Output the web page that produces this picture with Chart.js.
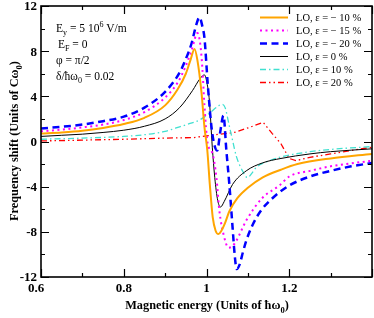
<!DOCTYPE html>
<html>
<head>
<meta charset="utf-8">
<script src="https://cdn.jsdelivr.net/npm/chart.js@4"></script>
<style>
  html, body { margin: 0; padding: 0; background: #fff; }
  #wrap { width: 374px; height: 318px; }
</style>
</head>
<body>
<div id="wrap"><canvas id="freqChart" width="374" height="318"></canvas></div>
<script>
// values (magnetic energy / frequency shift)
const xM10 = [0.6, 0.65, 0.7, 0.75, 0.8, 0.85, 0.9, 0.93, 0.95, 0.962, 0.971, 0.978, 0.988, 0.995, 1.002, 1.008, 1.015, 1.022, 1.029, 1.036, 1.045, 1.055, 1.075, 1.1, 1.135, 1.18, 1.22, 1.3, 1.4];
const yM10 = [0.7, 0.8, 0.95, 1.2, 1.55, 2.1, 3.2, 4.6, 6.0, 7.3, 8.2, 7.2, 4.3, 1.3, -0.8, -3.8, -6.7, -7.9, -8.2, -7.9, -7.2, -6.2, -5.0, -4.1, -3.2, -2.5, -2.0, -1.5, -1.1];

const xM15 = [0.6, 0.65, 0.7, 0.75, 0.8, 0.85, 0.9, 0.93, 0.95, 0.965, 0.978, 0.985, 0.99, 0.995, 1.003, 1.014, 1.024, 1.031, 1.043, 1.053, 1.062, 1.072, 1.096, 1.135, 1.176, 1.2, 1.25, 1.3, 1.4];
const yM15 = [0.9, 1.05, 1.25, 1.5, 1.9, 2.6, 3.9, 5.2, 6.7, 8.2, 9.6, 8.6, 6.5, 3.2, -0.2, -1.0, -3.2, -6.1, -8.5, -9.4, -9.3, -8.8, -7.0, -5.0, -3.9, -3.1, -2.6, -2.2, -1.7];

const xM20 = [0.6, 0.65, 0.7, 0.75, 0.8, 0.85, 0.9, 0.935, 0.95, 0.964, 0.975, 0.983, 0.99, 0.995, 1.003, 1.012, 1.019, 1.026, 1.033, 1.041, 1.048, 1.055, 1.063, 1.068, 1.073, 1.08, 1.088, 1.096, 1.11, 1.13, 1.16, 1.2, 1.25, 1.3, 1.35, 1.4];
const yM20 = [1.15, 1.3, 1.5, 1.8, 2.2, 3.0, 4.4, 6.1, 7.3, 8.7, 10.3, 11.0, 10.2, 9.2, 5.1, 1.3, -0.3, -0.8, 0.8, 2.3, -0.8, -3.7, -7.6, -10.0, -11.3, -10.9, -9.8, -8.8, -7.5, -6.2, -5.0, -3.9, -3.1, -2.6, -2.2, -1.9];

const xZero = [0.6, 0.65, 0.7, 0.75, 0.8, 0.85, 0.9, 0.935, 0.966, 0.985, 0.995, 1.001, 1.007, 1.014, 1.02, 1.027, 1.034, 1.043, 1.063, 1.096, 1.135, 1.18, 1.25, 1.3, 1.4];
const yZero = [0.45, 0.55, 0.65, 0.8, 1.0, 1.35, 2.0, 3.0, 4.5, 5.6, 5.9, 5.2, 3.6, -0.5, -3.2, -5.2, -5.8, -5.3, -3.8, -2.6, -1.9, -1.5, -1.1, -0.9, -0.65];

const xP10 = [0.6, 0.7, 0.8, 0.85, 0.9, 0.935, 0.96, 0.983, 1.007, 1.027, 1.038, 1.045, 1.055, 1.063, 1.072, 1.087, 1.099, 1.11, 1.12, 1.145, 1.176, 1.2, 1.25, 1.3, 1.4];
const yP10 = [0.2, 0.3, 0.45, 0.6, 0.9, 1.3, 1.6, 1.9, 2.5, 3.1, 3.3, 3.0, 1.4, 0.1, -1.3, -2.6, -3.2, -2.8, -2.3, -1.8, -1.4, -1.2, -0.9, -0.7, -0.45];

const xP20 = [0.6, 0.7, 0.8, 0.9, 0.97, 1.0, 1.067, 1.104, 1.137, 1.159, 1.18, 1.2, 1.216, 1.25, 1.3, 1.4];
const yP20 = [0.05, 0.12, 0.2, 0.3, 0.35, 0.5, 0.8, 1.25, 1.7, 0.7, -0.2, -1.5, -1.7, -1.4, -1.1, -0.5];

const seriesLabels = ['LO, \u03b5 = \u2212 10 %', 'LO, \u03b5 = \u2212 15 %', 'LO, \u03b5 = \u2212 20 %', 'LO, \u03b5 = 0 %', 'LO, \u03b5 = 10 %', 'LO, \u03b5 = 20 %'];
const xTickValues = [0.6, 0.8, 1.0, 1.2];
const xTickLabels = ['0.6', '0.8', '1', '1.2'];
const yTickValues = [12, 8, 4, 0, -4, -8, -12];
const yTickLabels = ['12', '8', '4', '0', '-4', '-8', '-12'];

const SERIF = '"Liberation Serif", "DejaVu Serif", serif';

function pts(xs, ys) {
  return xs.map((x, i) => ({ x: x, y: ys[i] }));
}

// draw text with sub/superscripts: parts = [[text, 0|1|2]] (0 normal, 1 sub, 2 sup)
function rich(ctx, x, y, parts, size, weight, measureOnly) {
  let cx = x;
  parts.forEach(p => {
    const small = p[1] !== 0;
    ctx.font = weight + ' ' + (small ? size * 0.7 : size) + 'px ' + SERIF;
    const dy = p[1] === 1 ? size * 0.3 : (p[1] === 2 ? -size * 0.42 : 0);
    if (!measureOnly) ctx.fillText(p[0], cx, y + dy);
    cx += ctx.measureText(p[0]).width;
  });
  return cx - x;
}

const datasets = [
  { data: pts(xM10, yM10), borderColor: '#ffa500', borderWidth: 2 },
  { data: pts(xM15, yM15), borderColor: '#ff00ff', borderWidth: 2, borderDash: [2, 3.5] },
  { data: pts(xM20, yM20), borderColor: '#0000ff', borderWidth: 2.5, borderDash: [7, 4.5] },
  { data: pts(xZero, yZero), borderColor: '#000000', borderWidth: 1 },
  { data: pts(xP10, yP10), borderColor: '#40e0d0', borderWidth: 1.3, borderDash: [6, 3, 1.5, 3] },
  { data: pts(xP20, yP20), borderColor: '#ff0000', borderWidth: 1.3, borderDash: [6, 3, 1.5, 3, 1.5, 3], tension: 0, cubicInterpolationMode: 'default' }
];
datasets.forEach((d, i) => {
  d.label = seriesLabels[i];
  d.fill = false;
  d.pointRadius = 0;
  if (!d.cubicInterpolationMode) d.cubicInterpolationMode = 'monotone';
});

// frame, inward ticks, tick labels, titles, notes and legend
const decor = {
  id: 'decor',
  afterDatasetsDraw(chart) {
    const ctx = chart.ctx;
    const a = chart.chartArea;
    const xs = chart.scales.x, ys = chart.scales.y;
    ctx.save();
    ctx.strokeStyle = '#000';
    ctx.lineWidth = 1.2;
    ctx.setLineDash([]);
    ctx.beginPath();
    for (let i = 0; i <= 8; i++) {
      const v = 0.6 + i * 0.1;
      const px = Math.round(xs.getPixelForValue(v)) + 0.5;
      const len = i % 2 === 0 ? 8 : 4;
      ctx.moveTo(px, a.bottom); ctx.lineTo(px, a.bottom - len);
      ctx.moveTo(px, a.top); ctx.lineTo(px, a.top + len);
    }
    for (let v = -12; v <= 12; v += 2) {
      const py = Math.round(ys.getPixelForValue(v)) + 0.5;
      const len = v % 4 === 0 ? 8 : 4;
      ctx.moveTo(a.left, py); ctx.lineTo(a.left + len, py);
      ctx.moveTo(a.right, py); ctx.lineTo(a.right - len, py);
    }
    ctx.stroke();
    ctx.lineWidth = 1.6;
    ctx.strokeRect(a.left, a.top, a.right - a.left, a.bottom - a.top);

    ctx.fillStyle = '#000';
    ctx.font = 'bold 13px ' + SERIF;
    ctx.textAlign = 'right';
    ctx.textBaseline = 'middle';
    yTickValues.forEach((v, i) => {
      ctx.fillText(yTickLabels[i], a.left - 4, ys.getPixelForValue(v) + 1);
    });
    ctx.textAlign = 'center';
    ctx.textBaseline = 'alphabetic';
    xTickValues.forEach((v, i) => {
      const shift = i === 0 ? -5 : 0;
      ctx.fillText(xTickLabels[i], xs.getPixelForValue(v) + shift, a.bottom + 15);
    });

    ctx.textAlign = 'left';
    // x title
    const xt = [['Magnetic energy (Units of \u0127\u03c9', 0], ['0', 1], [')', 0]];
    const xw = rich(ctx, 0, 0, xt, 12.3, 'bold', true);
    rich(ctx, 207 - xw / 2, 309, xt, 12.3, 'bold');

    // y title
    const yt = [['Frequency shift (Units of C\u03c9', 0], ['0', 1], [')', 0]];
    const yw = rich(ctx, 0, 0, yt, 12.3, 'bold', true);
    ctx.save();
    ctx.translate(18, 141);
    ctx.rotate(-Math.PI / 2);
    rich(ctx, -yw / 2, 0, yt, 12.3, 'bold');
    ctx.restore();

    // parameter notes
    rich(ctx, 56, 32, [['E', 0], ['y', 1], [' = 5 10', 0], ['6', 2], [' V/m', 0]], 11.5, 'normal');
    rich(ctx, 58, 48, [['E', 0], ['F', 1], [' = 0', 0]], 11.5, 'normal');
    rich(ctx, 56, 64, [['\u03c6 = \u03c0/2', 0]], 11.5, 'normal');
    rich(ctx, 56, 80, [['\u03b4/\u0127\u03c9', 0], ['0', 1], [' = 0.02', 0]], 11.5, 'normal');

    // legend
    chart.data.datasets.forEach((d, i) => {
      const cy = 17 + i * 13;
      ctx.strokeStyle = d.borderColor;
      ctx.lineWidth = d.borderWidth;
      ctx.setLineDash(d.borderDash || []);
      ctx.beginPath();
      ctx.moveTo(260, cy + 0.5);
      ctx.lineTo(288, cy + 0.5);
      ctx.stroke();
      ctx.setLineDash([]);
      ctx.font = '10.5px ' + SERIF;
      ctx.fillText(d.label, 296, cy + 4);
    });
    ctx.restore();
  }
};

const ctx = document.getElementById('freqChart').getContext('2d');
const freqChart = new Chart(ctx, {
  type: 'line',
  data: { datasets: datasets },
  options: {
    responsive: false,
    animation: false,
    layout: { padding: { top: 6, right: 2, left: 0, bottom: 0 } },
    plugins: { legend: { display: false }, tooltip: { enabled: false } },
    scales: {
      x: {
        type: 'linear',
        min: 0.6,
        max: 1.4,
        grid: { display: false },
        border: { display: false },
        ticks: { display: false },
        afterFit(scale) { scale.height = 41; }
      },
      y: {
        min: -12,
        max: 12,
        grid: { display: false },
        border: { display: false },
        ticks: { display: false },
        afterFit(scale) { scale.width = 41; }
      }
    }
  },
  plugins: [decor]
});
</script>
</body>
</html>
